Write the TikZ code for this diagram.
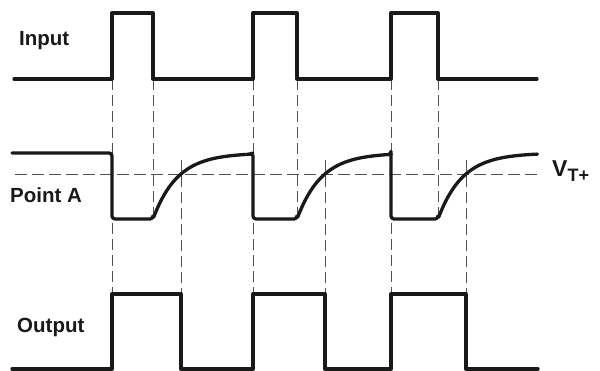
\documentclass[tikz,border=0pt]{standalone}
\usepackage{fontspec}
\setmainfont{Liberation Sans}
\usepackage{tikz}
\usetikzlibrary{positioning}
\definecolor{guidegray}{RGB}{80,80,80}

\begin{document}
\begin{tikzpicture}[
    x=1pt, y=-1pt,
    wave/.style={line width=3.3pt, line join=round, line cap=round, black!90},
    guide/.style={draw=guidegray, line width=0.9pt, dash pattern=on 11pt off 5pt},
    siglabel/.style={anchor=base west, inner sep=0pt, font=\fontsize{20.5}{24}\selectfont\bfseries, text=black!90}
]
\useasboundingbox (0,0) rectangle (600,371);

% signal names
\node[siglabel] (input) at (19,46) {Input};
\node[siglabel] (pointa) at (10,203) {Point A};
\node[siglabel] (output) at (17,333) {Output};
\node[siglabel, font=\fontsize{23}{24}\selectfont\bfseries] (vt) at (552,177)
    {V\raisebox{-5pt}{\fontsize{18}{18}\selectfont T+}};

% threshold level
\coordinate (vtl) at (15,174);
\coordinate (vtr) at (538,174);
\draw[guide, dash pattern=on 12pt off 5pt] (vtl) -- (vtr);

% guides from input edges
\draw[guide] (112,79) -- (112,294);
\draw[guide] (153,79) -- (153,219);
\draw[guide] (253,79) -- (253,294);
\draw[guide] (297,79) -- (297,219);
\draw[guide] (391,79) -- (391,294);
\draw[guide] (438,79) -- (438,219);

% guides from threshold crossings
\draw[guide] (181,160) -- (181,294);
\draw[guide] (325,160) -- (325,294);
\draw[guide] (466,160) -- (466,294);

% input
\draw[wave] (14,79) -- (112,79) -- (112,13) -- (153,13) -- (153,79)
    -- (253,79) -- (253,13) -- (297,13) -- (297,79)
    -- (391,79) -- (391,13) -- (438,13) -- (438,79) -- (537,79);

% point A
\draw[wave, rounded corners=3pt] (12,153) -- (112,153) -- (112,219) -- (153,219)
    -- plot[domain=0:97, samples=40] ({153+\x},{153+66*exp(-\x/24.4)})
    -- (253,153) -- (253,219) -- (297,219)
    -- plot[domain=0:94, samples=40] ({297+\x},{153+66*exp(-\x/24.4)})
    -- (391,153) -- (391,219) -- (438,219)
    -- plot[domain=0:99, samples=40] ({438+\x},{153+66*exp(-\x/24.4)});

% output
\draw[wave] (12,369) -- (112,369) -- (112,294) -- (181,294) -- (181,369)
    -- (253,369) -- (253,294) -- (325,294) -- (325,369)
    -- (391,369) -- (391,294) -- (466,294) -- (466,369) -- (538,369);

\end{tikzpicture}
\end{document}
